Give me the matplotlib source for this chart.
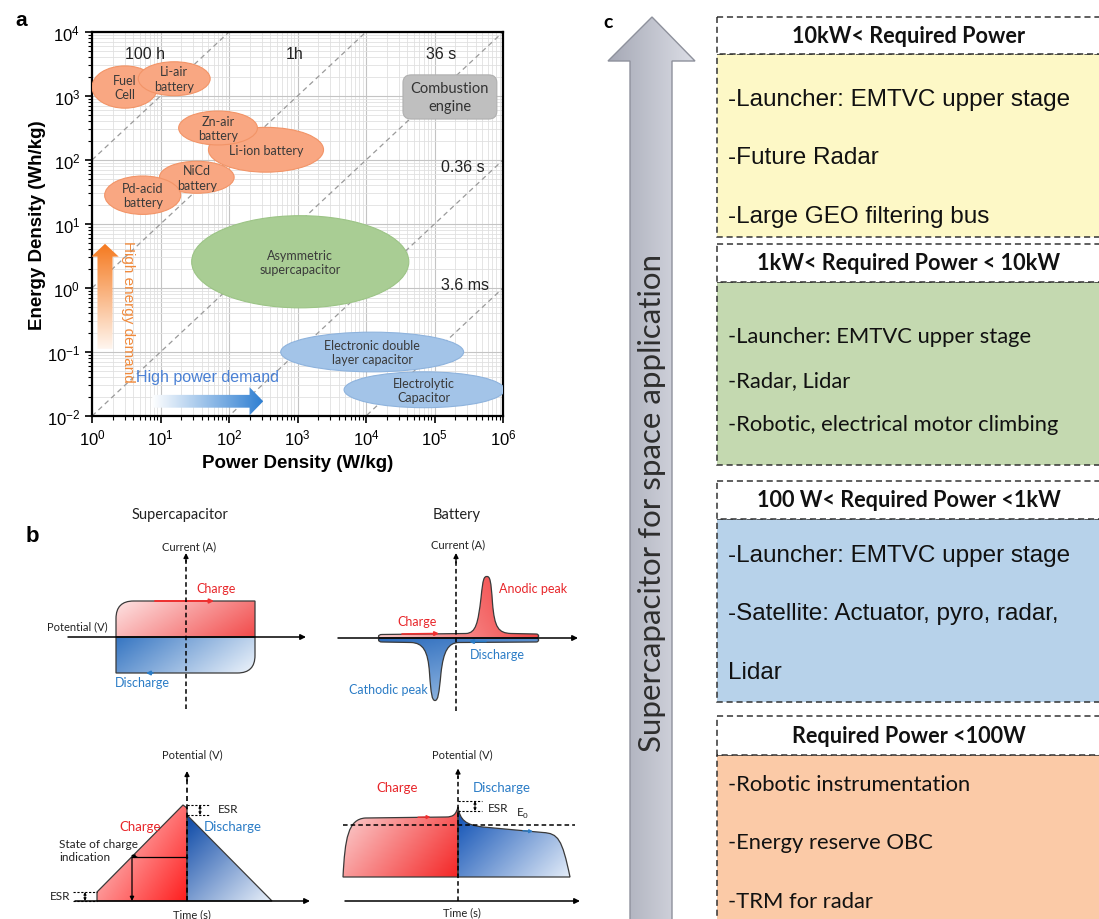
import numpy as np
import matplotlib
matplotlib.use("Agg")
import matplotlib.pyplot as plt
from matplotlib.patches import Ellipse, FancyBboxPatch, Rectangle, PathPatch
from matplotlib.path import Path
from matplotlib.colors import LinearSegmentedColormap

W, H = 1099, 920
plt.rcParams["font.family"] = ["Liberation Sans", "DejaVu Sans"]
plt.rcParams["mathtext.fontset"] = "custom"
plt.rcParams["mathtext.rm"] = "Liberation Sans"
plt.rcParams["mathtext.it"] = "Liberation Sans:italic"
plt.rcParams["mathtext.bf"] = "Liberation Sans:bold"
SOFT = ["Lato", "DejaVu Sans"]

RED_TXT = "#e8262a"
BLUE_TXT = "#2b7cc6"

# ---- (a) Ragone plot: storage technologies, in decades of W/kg and Wh/kg
tech_names = ["Fuel\nCell", "Li-air\nbattery", "Li-ion battery", "Zn-air\nbattery",
              "NiCd\nbattery", "Pd-acid\nbattery", "Asymmetric\nsupercapacitor",
              "Electronic double\nlayer capacitor", "Electrolytic\nCapacitor"]
tech_logp = [0.48, 1.20, 2.54, 1.84, 1.53, 0.74, 3.04, 4.09, 4.85]
tech_loge = [3.14, 3.27, 2.16, 2.50, 1.73, 1.45, 0.41, -1.00, -1.59]
tech_width = [0.96, 1.05, 1.68, 1.15, 1.09, 1.11, 3.17, 2.67, 2.34]
tech_height = [0.66, 0.53, 0.70, 0.53, 0.50, 0.60, 1.44, 0.62, 0.56]
tech_kind = ["battery"] * 6 + ["hybrid", "capacitor", "capacitor"]
kind_colors = {"battery": ("#f9a782", "#f29467"),
               "hybrid": ("#a9cd94", "#9cc486"),
               "capacitor": ("#a3c4e8", "#8eb3dd")}

engine_logp = (4.54, 5.91)
engine_loge = (2.64, 3.33)

# discharge-time isolines: log10(time in hours)
time_log_hours = [2, 0, -2, -4, -6]
time_labels = ["100 h", "1h", "36 s", "0.36 s", "3.6 ms"]
time_label_p = [0.77, 2.96, 5.10, 5.42, 5.45]
time_label_e = [3.66, 3.66, 3.66, 1.90, 0.06]

# ---- (b) schematic curves (arbitrary units)
cv_super_up = [(Path.MOVETO, (-1.40, 0.0)), (Path.LINETO, (-1.40, 0.37)),
               (Path.CURVE3, (-1.40, 0.72)), (Path.CURVE3, (-1.05, 0.72)),
               (Path.LINETO, (1.38, 0.72)), (Path.LINETO, (1.38, 0.0)),
               (Path.CLOSEPOLY, (-1.40, 0.0))]
cv_super_down = [(Path.MOVETO, (-1.40, 0.0)), (Path.LINETO, (-1.40, -0.72)),
                 (Path.LINETO, (1.03, -0.72)), (Path.CURVE3, (1.38, -0.72)),
                 (Path.CURVE3, (1.38, -0.37)), (Path.LINETO, (1.38, 0.0)),
                 (Path.CLOSEPOLY, (-1.40, 0.0))]
cv_batt_up = [(Path.MOVETO, (-1.50, 0.0)),
              (Path.CURVE4, (-1.57, 0.0)), (Path.CURVE4, (-1.57, 0.07)), (Path.CURVE4, (-1.48, 0.07)),
              (Path.LINETO, (0.20, 0.09)),
              (Path.CURVE4, (0.40, 0.10)), (Path.CURVE4, (0.44, 0.30)), (Path.CURVE4, (0.50, 0.80)),
              (Path.CURVE4, (0.54, 1.20)), (Path.CURVE4, (0.56, 1.23)), (Path.CURVE4, (0.62, 1.23)),
              (Path.CURVE4, (0.68, 1.23)), (Path.CURVE4, (0.70, 1.15)), (Path.CURVE4, (0.73, 0.70)),
              (Path.CURVE4, (0.77, 0.20)), (Path.CURVE4, (0.85, 0.10)), (Path.CURVE4, (1.10, 0.09)),
              (Path.LINETO, (1.60, 0.08)),
              (Path.CURVE4, (1.67, 0.08)), (Path.CURVE4, (1.67, 0.0)), (Path.CURVE4, (1.60, 0.0)),
              (Path.CLOSEPOLY, (-1.50, 0.0))]
cv_batt_down = [(Path.MOVETO, (1.60, 0.0)),
                (Path.CURVE4, (1.67, 0.0)), (Path.CURVE4, (1.67, -0.08)), (Path.CURVE4, (1.60, -0.08)),
                (Path.LINETO, (0.05, -0.09)),
                (Path.CURVE4, (-0.15, -0.10)), (Path.CURVE4, (-0.25, -0.25)), (Path.CURVE4, (-0.30, -0.70)),
                (Path.CURVE4, (-0.34, -1.12)), (Path.CURVE4, (-0.36, -1.25)), (Path.CURVE4, (-0.42, -1.25)),
                (Path.CURVE4, (-0.48, -1.25)), (Path.CURVE4, (-0.50, -1.12)), (Path.CURVE4, (-0.53, -0.70)),
                (Path.CURVE4, (-0.56, -0.25)), (Path.CURVE4, (-0.66, -0.10)), (Path.CURVE4, (-0.90, -0.09)),
                (Path.LINETO, (-1.48, -0.08)),
                (Path.CURVE4, (-1.57, -0.08)), (Path.CURVE4, (-1.57, 0.0)), (Path.CURVE4, (-1.50, 0.0)),
                (Path.CLOSEPOLY, (1.60, 0.0))]
gcd_super_charge = [(Path.MOVETO, (-1.80, 0.0)), (Path.LINETO, (-1.80, 0.18)),
                    (Path.LINETO, (-0.08, 1.92)), (Path.LINETO, (0.0, 1.86)),
                    (Path.LINETO, (0.0, 0.0)), (Path.CLOSEPOLY, (-1.80, 0.0))]
gcd_super_discharge = [(Path.MOVETO, (0.0, 1.72)), (Path.LINETO, (1.70, 0.0)),
                       (Path.LINETO, (0.0, 0.0)), (Path.CLOSEPOLY, (0.0, 1.72))]
gcd_batt_charge = [(Path.MOVETO, (-2.30, 0.48)),
                   (Path.CURVE4, (-2.26, 1.25)), (Path.CURVE4, (-2.20, 1.64)), (Path.CURVE4, (-1.85, 1.66)),
                   (Path.LINETO, (-0.25, 1.68)),
                   (Path.CURVE4, (-0.08, 1.68)), (Path.CURVE4, (-0.04, 1.74)), (Path.CURVE4, (0.0, 1.88)),
                   (Path.LINETO, (0.0, 0.48)), (Path.CLOSEPOLY, (-2.30, 0.48))]
gcd_batt_discharge = [(Path.MOVETO, (0.0, 1.88)),
                      (Path.CURVE4, (0.04, 1.62)), (Path.CURVE4, (0.15, 1.52)), (Path.CURVE4, (0.50, 1.48)),
                      (Path.LINETO, (1.70, 1.37)),
                      (Path.CURVE4, (2.00, 1.35)), (Path.CURVE4, (2.08, 1.25)), (Path.CURVE4, (2.24, 0.48)),
                      (Path.LINETO, (0.0, 0.48)), (Path.CLOSEPOLY, (0.0, 1.88))]

# ---- (c) power classes for space applications
power_headers = ["10kW< Required Power", "1kW< Required Power < 10kW",
                 "100 W< Required Power <1kW", "Required Power <100W"]
power_items = [["-Launcher: EMTVC upper stage", "-Future Radar", "-Large GEO filtering bus"],
               ["-Launcher: EMTVC upper stage", "-Radar, Lidar", "-Robotic, electrical motor climbing"],
               ["-Launcher: EMTVC upper stage", "-Satellite: Actuator, pyro, radar,", "Lidar"],
               ["-Robotic instrumentation", "-Energy reserve OBC", "-TRM for radar"]]
power_colors = ["#fdf8c6", "#c4d9b0", "#b7d2ea", "#fbcaa7"]
power_fonts = [["Liberation Sans"], SOFT, ["Liberation Sans"], SOFT]


fig = plt.figure(figsize=(W / 100, H / 100), dpi=100)


def px_box(x0, y0, x1, y1):
    return [x0 / W, 1 - y1 / H, (x1 - x0) / W, (y1 - y0) / H]


def make_path(steps):
    codes, verts = zip(*steps)
    return Path(np.array(verts, float), list(codes))


def shade(ax, path, colors, direction, edge="#3a3a3a", lw=0.9, z=2):
    patch = PathPatch(path, facecolor="none", edgecolor=edge, lw=lw, zorder=z + 0.5)
    ax.add_patch(patch)
    (x0, y0), (x1, y1) = path.get_extents().get_points()
    xlim, ylim = ax.get_xlim(), ax.get_ylim()
    gx, gy = np.meshgrid(np.linspace(0, 1, 256), np.linspace(0, 1, 256))
    t = gx * direction[0] + gy * direction[1]
    t = (t - t.min()) / (t.max() - t.min())
    cmap = LinearSegmentedColormap.from_list("shade", colors)
    im = ax.imshow(t, cmap=cmap, extent=(x0, x1, y0, y1), origin="lower",
                   aspect="auto", interpolation="bilinear", zorder=z)
    im.set_clip_path(patch)
    ax.set_xlim(xlim)
    ax.set_ylim(ylim)
    return patch


def arrow(ax, start, end, color="black", lw=1.0, style="-|>", scale=7, ls="-"):
    ax.annotate("", xy=end, xytext=start,
                arrowprops=dict(arrowstyle=style, color=color, lw=lw, ls=ls,
                                mutation_scale=scale, shrinkA=0, shrinkB=0))


# ================= panel a =================
ax = fig.add_axes(px_box(92, 33, 503, 417))
ax.set_xlim(0, 6)
ax.set_ylim(-2, 4)
xdec = np.arange(0, 7)
ydec = np.arange(-2, 5)
ax.set_xticks(xdec)
ax.set_xticklabels([f"$10^{{{d}}}$" for d in xdec])
ax.set_yticks(ydec)
ax.set_yticklabels([f"$10^{{{d}}}$" for d in ydec])
ax.set_xticks([d + np.log10(k) for d in range(0, 6) for k in range(2, 10)], minor=True)
ax.set_yticks([d + np.log10(k) for d in range(-2, 4) for k in range(2, 10)], minor=True)
ax.tick_params(which="major", direction="out", length=5, width=1.2, labelsize=12)
ax.tick_params(which="minor", direction="out", length=3, width=0.8)
ax.grid(which="major", color="#c4c4c4", lw=0.8)
ax.grid(which="minor", color="#e0e0e0", lw=0.6)
ax.set_axisbelow(True)
for s in ax.spines.values():
    s.set_linewidth(1.6)
ax.set_xlabel("Power Density (W/kg)", fontsize=13.5, fontweight="bold")
ax.set_ylabel("Energy Density (Wh/kg)", fontsize=13.5, fontweight="bold")
ax.xaxis.set_label_coords(0.5, -0.1)
ax.yaxis.set_label_coords(-0.112, 0.5)

for off in time_log_hours:
    ax.plot([0, 6], [off, 6 + off], ls=(0, (4, 3)), color="#9a9a9a", lw=0.9, zorder=1.5)
for lab, xp, yp in zip(time_labels, time_label_p, time_label_e):
    ax.text(xp, yp, lab, fontsize=11.5, ha="center", va="center", color="#222222", zorder=5)

for name, xp, yp, w, h, kind in zip(tech_names, tech_logp, tech_loge, tech_width,
                                    tech_height, tech_kind):
    fc, ec = kind_colors[kind]
    ax.add_patch(Ellipse((xp, yp), w, h, facecolor=fc, edgecolor=ec, lw=0.8, zorder=3))
    ax.text(xp, yp, name, fontsize=9, family=SOFT, ha="center", va="center",
            color="#3a3a3a", zorder=4, linespacing=1.25)

ax.add_patch(FancyBboxPatch((engine_logp[0], engine_loge[0]),
                            engine_logp[1] - engine_logp[0], engine_loge[1] - engine_loge[0],
                            boxstyle="round,pad=0,rounding_size=0.12",
                            facecolor="#bfbfbf", edgecolor="#b0b0b0", lw=0.8, zorder=3))
ax.text(sum(engine_logp) / 2, sum(engine_loge) / 2, "Combustion\nengine", fontsize=10.5,
        family=SOFT, ha="center", va="center", color="#333333", zorder=4, linespacing=1.3)

# demand arrows
xc = 0.19
energy_arrow = [(xc - 0.11, -0.95), (xc + 0.11, -0.95), (xc + 0.11, 0.49), (xc + 0.20, 0.49),
                (xc, 0.69), (xc - 0.20, 0.49), (xc - 0.11, 0.49)]
shade(ax, Path(energy_arrow + [energy_arrow[0]], closed=True), ["#fff6ef", "#f57a20"],
      (0, 1), edge="none", z=3)
yc = -1.77
power_arrow = [(0.88, yc - 0.10), (2.30, yc - 0.10), (2.30, yc - 0.22), (2.50, yc),
               (2.30, yc + 0.22), (2.30, yc + 0.10), (0.88, yc + 0.10)]
shade(ax, Path(power_arrow + [power_arrow[0]], closed=True), ["#ffffff", "#2f7fd2"],
      (1, 0), edge="none", z=3)
ax.text(0.52, -0.36, "High energy demand", rotation=-90, fontsize=11, color="#f08a3c",
        ha="center", va="center", zorder=4)
ax.text(1.69, -1.39, "High power demand", fontsize=11.5, color="#4a80d4",
        ha="center", va="center", zorder=4)
fig.text(15 / W, 1 - 20 / H, "a", fontsize=15, fontweight="bold", va="center")

# ================= panel b =================
SC = 50.0


def schematic_axes(box, origin):
    x0, y0, x1, y1 = box
    a = fig.add_axes(px_box(*box))
    ox, oy = origin
    a.set_xlim((x0 - ox) / SC, (x1 - ox) / SC)
    a.set_ylim((oy - y1) / SC, (oy - y0) / SC)
    a.axis("off")
    return a


def soft(a, x, y, s, size=8.5, color="#222222", **kw):
    kw.setdefault("ha", "center")
    kw.setdefault("va", "center")
    a.text(x, y, s, fontsize=size, family=SOFT, color=color, **kw)


fig.text(32 / W, 1 - 537 / H, "b", fontsize=16, fontweight="bold", va="center", ha="center")

# CV, supercapacitor
b1 = schematic_axes((40, 500, 310, 720), (186, 638))
shade(b1, make_path(cv_super_up), ["#fde4e4", "#f24a4a"], (1, -0.4))
shade(b1, make_path(cv_super_down), ["#3575c2", "#eef4fb"], (1, -0.35))
arrow(b1, (-2.36, 0), (2.40, 0), lw=1.1, scale=8)
b1.plot([0, 0], [-1.44, 1.55], ls=(0, (3, 2)), color="black", lw=1.1, zorder=4)
arrow(b1, (0, 1.50), (0, 1.68), lw=1.0, scale=7)
arrow(b1, (-0.62, 0.72), (0.56, 0.72), color="#f03030", lw=1.4, scale=6)
arrow(b1, (-0.66, -0.72), (-0.80, -0.72), color="#2b7cc6", lw=1.2, scale=6)
soft(b1, -0.12, 2.46, "Supercapacitor", size=10.5)
soft(b1, 0.06, 1.82, "Current (A)", size=8)
soft(b1, -2.18, 0.22, "Potential (V)", size=8)
soft(b1, 0.60, 0.98, "Charge", size=9, color=RED_TXT)
soft(b1, -0.88, -0.90, "Discharge", size=9, color=BLUE_TXT)

# CV, battery
b2 = schematic_axes((310, 500, 590, 720), (456, 639))
shade(b2, make_path(cv_batt_up), ["#f9cccc", "#f23030"], (1, 0.2))
shade(b2, make_path(cv_batt_down), ["#2c6cbd", "#a9c8ea"], (0.6, -1))
arrow(b2, (-2.36, 0), (2.44, 0), lw=1.1, scale=8)
b2.plot([0, 0], [-1.46, 1.55], ls=(0, (3, 2)), color="black", lw=1.1, zorder=4)
arrow(b2, (0, 1.50), (0, 1.70), lw=1.0, scale=7)
arrow(b2, (-1.08, 0.08), (-0.34, 0.09), color="#f03030", lw=1.2, scale=6)
arrow(b2, (0.60, -0.07), (0.26, -0.07), color="#2b7cc6", lw=1.2, scale=6)
soft(b2, 0.02, 2.48, "Battery", size=10.5)
soft(b2, 0.04, 1.88, "Current (A)", size=8)
soft(b2, -0.78, 0.34, "Charge", size=9, color=RED_TXT)
soft(b2, 1.54, 1.00, "Anodic peak", size=9, color=RED_TXT)
soft(b2, 0.82, -0.32, "Discharge", size=9, color=BLUE_TXT)
soft(b2, -1.36, -1.02, "Cathodic peak", size=9, color=BLUE_TXT)

# galvanostatic, supercapacitor
b3 = schematic_axes((40, 740, 310, 920), (187, 902))
shade(b3, make_path(gcd_super_charge), ["#fde0e0", "#ff1e1e"], (1, -0.7))
shade(b3, make_path(gcd_super_discharge), ["#0a47a6", "#e9f0f9"], (1, -1))
arrow(b3, (-2.24, 0), (2.46, 0), lw=1.1, scale=8)
b3.plot([0, 0], [0, 2.45], ls=(0, (3, 2)), color="black", lw=1.2, zorder=4)
arrow(b3, (0, 2.40), (0, 2.60), lw=1.0, scale=7)
for yy in (1.92, 1.72):
    b3.plot([0, 0.46], [yy, yy], ls=(0, (2, 1.5)), color="black", lw=0.8, zorder=4)
arrow(b3, (0.26, 1.72), (0.26, 1.92), style="<|-|>", lw=0.7, scale=4)
for yy in (0.18, 0.0):
    b3.plot([-2.28, -1.80], [yy, yy], ls=(0, (2, 1.5)), color="black", lw=0.8, zorder=4)
arrow(b3, (-2.04, 0.0), (-2.04, 0.18), style="<|-|>", lw=0.7, scale=4)
b3.plot([-1.10, 0], [0.88, 0.88], color="black", lw=0.9, zorder=4)
arrow(b3, (-1.10, 0.88), (-1.10, 0.0), lw=0.9, scale=6)
arrow(b3, (-1.00, 0.88), (-1.12, 0.92), lw=0.8, scale=5)
soft(b3, 0.62, 1.84, "ESR", size=8.5, ha="left")
soft(b3, -2.54, 0.10, "ESR", size=8.5)
soft(b3, -2.56, 1.02, "State of charge\nindication", size=8.5, ha="left", linespacing=1.2)
soft(b3, -0.94, 1.50, "Charge", size=9.5, color=RED_TXT)
soft(b3, 0.92, 1.50, "Discharge", size=9.5, color=BLUE_TXT)
soft(b3, 0.10, 2.94, "Potential (V)", size=8)
soft(b3, 0.10, -0.26, "Time (s)", size=8)

# galvanostatic, battery
b4 = schematic_axes((310, 740, 590, 920), (458, 902))
shade(b4, make_path(gcd_batt_charge), ["#fbd6d6", "#f42626"], (1, -0.5))
shade(b4, make_path(gcd_batt_discharge), ["#0a4db3", "#e3ecf8"], (1, -0.6))
arrow(b4, (-2.26, 0), (2.44, 0), lw=1.1, scale=8)
b4.plot([0, 0], [0, 2.5], ls=(0, (3, 2)), color="black", lw=1.1, zorder=4)
arrow(b4, (0, 2.45), (0, 2.65), lw=1.0, scale=7)
b4.plot([-2.30, 2.34], [1.52, 1.52], ls=(0, (3, 2)), color="black", lw=1.1, zorder=4)
for yy in (2.0, 1.8):
    b4.plot([0, 0.48], [yy, yy], ls=(0, (2, 1.5)), color="black", lw=0.8, zorder=4)
arrow(b4, (0.34, 1.8), (0.34, 2.0), style="<|-|>", lw=0.7, scale=4)
arrow(b4, (-0.80, 1.675), (-0.55, 1.68), color="#f03030", lw=1.0, scale=5)
arrow(b4, (1.30, 1.405), (1.50, 1.39), color="#2b7cc6", lw=1.0, scale=5)
soft(b4, 0.60, 1.86, "ESR", size=8.5, ha="left")
soft(b4, 1.30, 1.76, "E$_0$", size=8.5)
soft(b4, -1.22, 2.28, "Charge", size=9.5, color=RED_TXT)
soft(b4, 0.88, 2.28, "Discharge", size=9.5, color=BLUE_TXT)
soft(b4, 0.08, 2.94, "Potential (V)", size=8)
soft(b4, 0.08, -0.22, "Time (s)", size=8)

# ================= panel c =================
axc = fig.add_axes(px_box(590, 0, 1099, 920))
axc.set_xlim(590, 1099)
axc.set_ylim(920, 0)
axc.axis("off")

big_arrow = [(630, 930), (630, 62), (608, 62), (652, 18), (695, 62), (672, 62), (672, 930)]
shade(axc, Path(big_arrow + [big_arrow[0]], closed=True), ["#a5a8b5", "#dcdee6"], (1, 0),
      edge="#8e919c", lw=1.0)
axc.text(652, 503, "Supercapacitor for space application", rotation=90, fontsize=22.5,
         family=SOFT, color="#2e2e2e", ha="center", va="center")
axc.text(603, 22, "c", fontsize=14, fontweight="bold", family=SOFT, va="center")

box_left, box_right = 717, 1110
header_top = [18, 245, 482, 717]
header_bottom = [55, 283, 520, 756]
content_bottom = [238, 466, 703, 930]
first_line = [45, 54, 36, 29]
line_step = [58.5, 44, 58.5, 58.5]
item_size = [17.5, 15.8, 17.5, 15.8]
dash = (0, (4, 2.5))
for i, head in enumerate(power_headers):
    axc.add_patch(Rectangle((box_left, header_bottom[i]), box_right - box_left,
                            content_bottom[i] - header_bottom[i], facecolor=power_colors[i],
                            edgecolor="#333333", lw=1.1, ls=dash))
    axc.add_patch(Rectangle((box_left, header_top[i]), box_right - box_left,
                            header_bottom[i] - header_top[i], facecolor="white",
                            edgecolor="#333333", lw=1.1, ls=dash))
    axc.text(909, (header_top[i] + header_bottom[i]) / 2, head, fontsize=15.6,
             fontweight="bold", family=SOFT, ha="center", va="center", color="#111111")
    for j, item in enumerate(power_items[i]):
        axc.text(728, header_bottom[i] + first_line[i] + j * line_step[i], item,
                 fontsize=item_size[i], family=power_fonts[i], ha="left",
                 va="center", color="#111111")

fig.savefig("out.png", dpi=100)
